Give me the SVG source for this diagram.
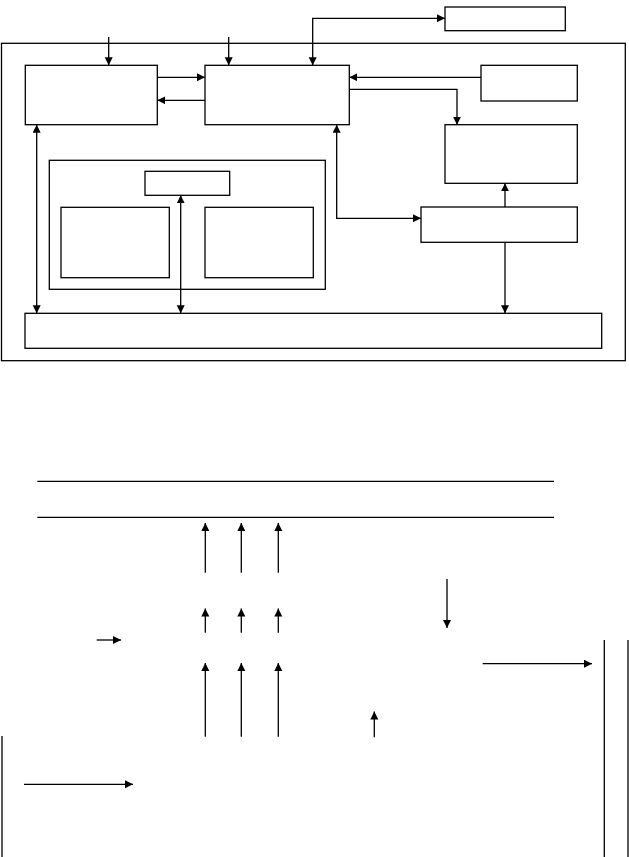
<svg xmlns="http://www.w3.org/2000/svg" width="629" height="857" viewBox="0 0 629 857">
<style>
rect{fill:none;stroke:#000;stroke-width:1.3}
line,polyline{fill:none;stroke:#000;stroke-width:1.3}
.a{marker-end:url(#ah)}
.b{marker-start:url(#ah);marker-end:url(#ah)}
</style>
<defs>
<marker id="ah" markerUnits="userSpaceOnUse" markerWidth="9" markerHeight="9" refX="8" refY="4" orient="auto-start-reverse">
<path d="M0,0 L8,4 L0,8 z" fill="#000"/>
</marker>
</defs>
<rect width="629" height="857" style="fill:#fff;stroke:none"/>
<g id="frame"><rect x="1.5" y="43.3" width="623.8" height="317.4"/></g>
<g id="nodeA"><rect x="25.3" y="65.3" width="132" height="59.4"/></g>
<g id="nodeB"><rect x="205" y="65.3" width="144.3" height="59.4"/></g>
<g id="nodeC"><rect x="445" y="7" width="120.3" height="23.7"/></g>
<g id="nodeD"><rect x="481" y="65.3" width="96.3" height="35.7"/></g>
<g id="nodeE"><rect x="445" y="124.7" width="132.3" height="58.6"/></g>
<g id="nodeF"><rect x="421" y="207" width="156.3" height="35.3"/></g>
<g id="nodeG"><rect x="25" y="313.3" width="576.7" height="35"/></g>
<g id="groupH"><rect x="49.3" y="160.3" width="276" height="129"/></g>
<g id="nodeI"><rect x="145" y="171.3" width="84.7" height="24"/></g>
<g id="nodeJ"><rect x="61" y="207.3" width="108.3" height="70.4"/></g>
<g id="nodeK"><rect x="205" y="207.3" width="108.3" height="70.4"/></g>
<g id="bus"><line x1="37.3" y1="481.3" x2="554" y2="481.3"/><line x1="37.3" y1="517.3" x2="554" y2="517.3"/></g>
<g id="connectors">
<line class="a" x1="108.7" y1="37" x2="108.7" y2="65.3"/>
<line class="a" x1="228.7" y1="37" x2="228.7" y2="65.3"/>
<polyline class="b" points="445,18.3 312.7,18.3 312.7,65.3"/>
<line class="a" x1="157.3" y1="77.3" x2="205" y2="77.3"/>
<line class="a" x1="205" y1="100.3" x2="157.3" y2="100.3"/>
<line class="a" x1="481" y1="77.3" x2="349.3" y2="77.3"/>
<polyline class="a" points="349.3,89.3 457,89.3 457,124.7"/>
<line class="a" x1="505" y1="207" x2="505" y2="183.3"/>
<polyline class="b" points="336.7,124.7 336.7,218.3 421,218.3"/>
<line class="a" x1="505" y1="242.3" x2="505" y2="313.3"/>
<line class="b" x1="36.7" y1="124.7" x2="36.7" y2="313.3"/>
<line class="b" x1="180.7" y1="195.3" x2="180.7" y2="313.3"/>
<line class="a" x1="205.3" y1="572.7" x2="205.3" y2="523"/>
<line class="a" x1="241.3" y1="572.7" x2="241.3" y2="523"/>
<line class="a" x1="278.3" y1="572.7" x2="278.3" y2="523"/>
<line class="a" x1="205.3" y1="632.7" x2="205.3" y2="608.5"/>
<line class="a" x1="241.3" y1="632.7" x2="241.3" y2="608.5"/>
<line class="a" x1="278.3" y1="632.7" x2="278.3" y2="608.5"/>
<line class="a" x1="205.3" y1="736.7" x2="205.3" y2="663"/>
<line class="a" x1="241.3" y1="736.7" x2="241.3" y2="663"/>
<line class="a" x1="278.3" y1="736.7" x2="278.3" y2="663"/>
<line class="a" x1="96.7" y1="640" x2="121" y2="640"/>
<line class="a" x1="24" y1="784.3" x2="133" y2="784.3"/>
<line class="a" x1="447" y1="579" x2="447" y2="628"/>
<line class="a" x1="482.7" y1="663.7" x2="592" y2="663.7"/>
<line class="a" x1="374.3" y1="737.3" x2="374.3" y2="711.5"/>
<line x1="2" y1="736" x2="2" y2="857"/>
<line x1="604.3" y1="640" x2="604.3" y2="857"/>
<line x1="628" y1="640" x2="628" y2="857"/>
</g>
</svg>
